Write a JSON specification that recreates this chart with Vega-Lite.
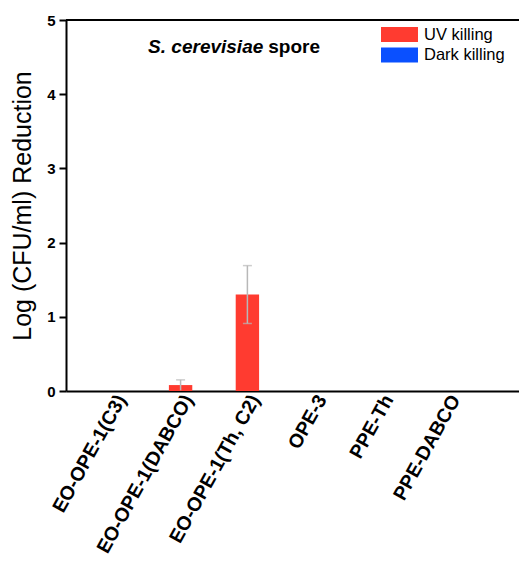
{
  "$schema": "https://vega.github.io/schema/vega-lite/v6.json",
  "width": 453,
  "height": 371,
  "autosize": "none",
  "padding": {"left": 66, "top": 20, "right": 0, "bottom": 178},
  "background": "white",
  "config": {
    "view": {"stroke": null},
    "font": "Liberation Sans"
  },
  "datasets": {
    "bars": [
      {"compound": "EO-OPE-1(C3)", "series": "UV killing", "value": 0, "err": 0, "lo": 0, "hi": 0},
      {"compound": "EO-OPE-1(C3)", "series": "Dark killing", "value": 0, "err": 0, "lo": 0, "hi": 0},
      {"compound": "EO-OPE-1(DABCO)", "series": "UV killing", "value": 0.08, "err": 0.07, "lo": 0.01, "hi": 0.15},
      {"compound": "EO-OPE-1(DABCO)", "series": "Dark killing", "value": 0, "err": 0, "lo": 0, "hi": 0},
      {"compound": "EO-OPE-1(Th, C2)", "series": "UV killing", "value": 1.3, "err": 0.39, "lo": 0.91, "hi": 1.69},
      {"compound": "EO-OPE-1(Th, C2)", "series": "Dark killing", "value": 0, "err": 0, "lo": 0, "hi": 0},
      {"compound": "OPE-3", "series": "UV killing", "value": 0, "err": 0, "lo": 0, "hi": 0},
      {"compound": "OPE-3", "series": "Dark killing", "value": 0, "err": 0, "lo": 0, "hi": 0},
      {"compound": "PPE-Th", "series": "UV killing", "value": 0, "err": 0, "lo": 0, "hi": 0},
      {"compound": "PPE-Th", "series": "Dark killing", "value": 0, "err": 0, "lo": 0, "hi": 0},
      {"compound": "PPE-DABCO", "series": "UV killing", "value": 0, "err": 0, "lo": 0, "hi": 0},
      {"compound": "PPE-DABCO", "series": "Dark killing", "value": 0, "err": 0, "lo": 0, "hi": 0}
    ],
    "note": [
      {"compound": "EO-OPE-1(DABCO)", "italic": "S. cerevisiae", "plain": "spore", "y": 4.63}
    ]
  },
  "layer": [
    {
      "data": {"name": "bars"},
      "mark": {"type": "bar"},
      "encoding": {
        "x": {
          "field": "compound", "type": "nominal", "sort": null,
          "scale": {"paddingInner": 0.3, "paddingOuter": 0.54},
          "axis": {
            "title": null, "labelAngle": -61, "labelFontSize": 19.5, "labelFontWeight": "bold",
            "labelColor": "black", "ticks": false, "labelPadding": 5, "labelLimit": 400, "labelOffset": -4,
            "domainColor": "black", "domainWidth": 2
          }
        },
        "xOffset": {"field": "series", "type": "nominal", "sort": ["UV killing", "Dark killing"]},
        "y": {
          "field": "value", "type": "quantitative",
          "scale": {"domain": [0, 5], "nice": false},
          "axis": {
            "title": "Log (CFU/ml) Reduction", "titleFontSize": 25, "titleFontWeight": "normal",
            "titleColor": "black", "titlePadding": 11,
            "values": [0, 1, 2, 3, 4, 5], "format": "d", "labelFontSize": 15, "labelFontWeight": "bold",
            "labelColor": "black", "labelPadding": 4, "ticks": true, "tickColor": "black", "tickSize": 7, "tickWidth": 2,
            "grid": false,
            "domainColor": "black", "domainWidth": 2
          }
        },
        "color": {
          "field": "series", "type": "nominal",
          "scale": {"domain": ["UV killing", "Dark killing"], "range": ["#ff3b30", "#0a50ff"]},
          "legend": {
            "title": null, "orient": "none", "legendX": 324, "legendY": 5, "padding": 0,
            "symbolType": "M-2,-0.8H2V0.8H-2Z", "symbolSize": 342, "symbolStrokeWidth": 0,
            "labelFontSize": 16.5, "labelColor": "black", "labelOffset": 15, "rowPadding": 2.5
          }
        }
      }
    },
    {
      "data": {"name": "bars"},
      "transform": [{"filter": "datum.err > 0"}],
      "mark": {"type": "rule", "color": "#b8b8b8", "strokeWidth": 1.5},
      "encoding": {
        "x": {"field": "compound", "type": "nominal", "sort": null},
        "xOffset": {"field": "series", "type": "nominal", "sort": ["UV killing", "Dark killing"]},
        "y": {"field": "lo", "type": "quantitative"},
        "y2": {"field": "hi"}
      }
    },
    {
      "data": {"name": "bars"},
      "transform": [{"filter": "datum.err > 0"}],
      "mark": {"type": "tick", "color": "#b8b8b8", "thickness": 1.5, "size": 9, "orient": "horizontal"},
      "encoding": {
        "x": {"field": "compound", "type": "nominal", "sort": null},
        "xOffset": {"field": "series", "type": "nominal", "sort": ["UV killing", "Dark killing"]},
        "y": {"field": "hi", "type": "quantitative"}
      }
    },
    {
      "data": {"name": "bars"},
      "transform": [{"filter": "datum.err > 0.2"}],
      "mark": {"type": "tick", "color": "#b8b8b8", "thickness": 1.5, "size": 9, "orient": "horizontal"},
      "encoding": {
        "x": {"field": "compound", "type": "nominal", "sort": null},
        "xOffset": {"field": "series", "type": "nominal", "sort": ["UV killing", "Dark killing"]},
        "y": {"field": "lo", "type": "quantitative"}
      }
    },
    {
      "data": {"name": "note"},
      "mark": {"type": "text", "align": "right", "dx": 71, "fontSize": 19, "fontWeight": "bold", "fontStyle": "italic", "baseline": "middle", "color": "black"},
      "encoding": {
        "x": {"field": "compound", "type": "nominal", "sort": null},
        "y": {"field": "y", "type": "quantitative"},
        "text": {"field": "italic"}
      }
    },
    {
      "data": {"name": "note"},
      "mark": {"type": "text", "align": "left", "dx": 76, "fontSize": 19, "fontWeight": "bold", "baseline": "middle", "color": "black"},
      "encoding": {
        "x": {"field": "compound", "type": "nominal", "sort": null},
        "y": {"field": "y", "type": "quantitative"},
        "text": {"field": "plain"}
      }
    },
    {
      "data": {"name": "bars"},
      "mark": {"type": "rule", "color": "black", "strokeWidth": 2},
      "encoding": {
        "y": {"datum": 5}
      }
    }
  ]
}
